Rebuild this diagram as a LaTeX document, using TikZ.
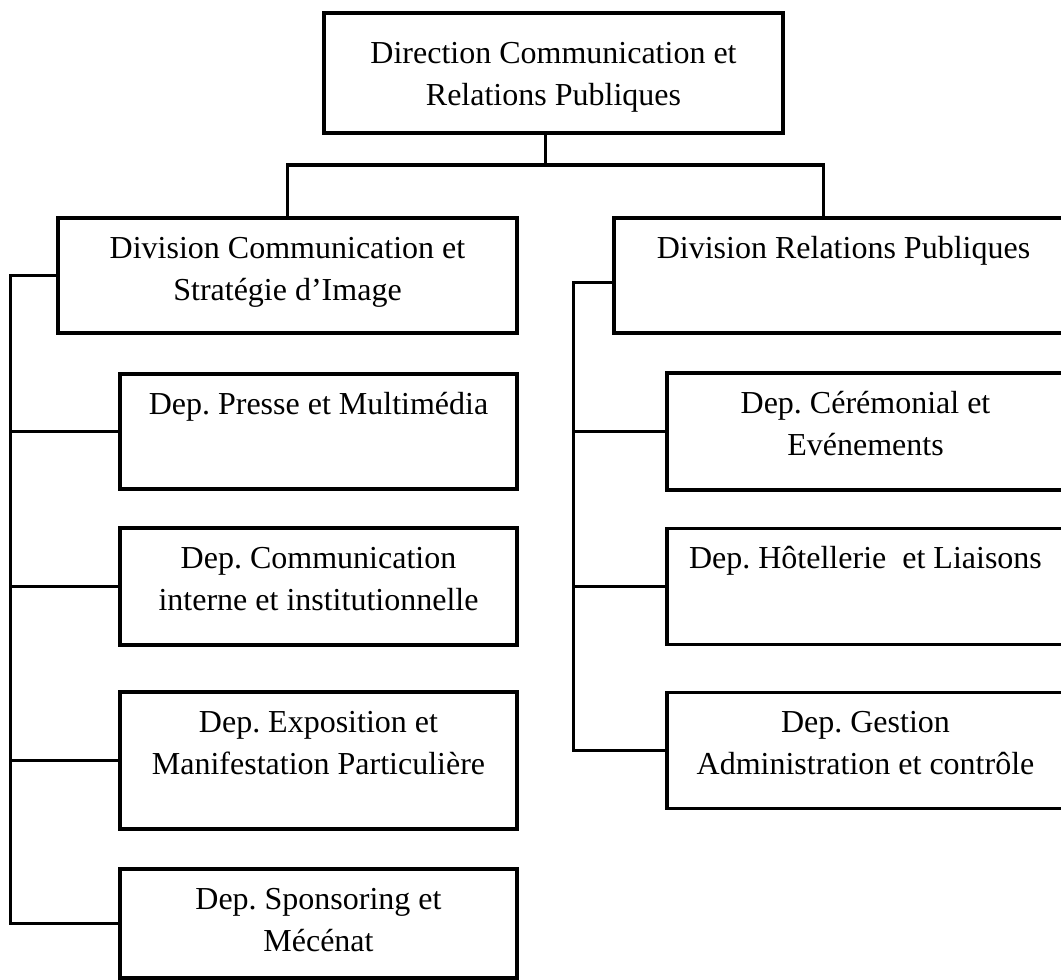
\documentclass[tikz,border=0pt]{standalone}
\usepackage{fontspec}
\setmainfont{Liberation Serif}
\frenchspacing
\usetikzlibrary{positioning}
\tikzstyle{unit} = [rectangle, draw=black, line width=3.5pt, inner sep=0pt, font=\fontsize{32pt}{42pt}\selectfont]
\tikzstyle{link} = [draw, line width=3.5pt]
\newcommand{\orgtext}[4][40pt]{\parbox[c][#3][t]{#2}{\centering\rule{0pt}{#1}#4}}

\begin{document}
\begin{tikzpicture}[node distance=155pt]
\useasboundingbox (0,0) rectangle (1061pt,-980pt);
\clip (0,0) rectangle (1061pt,-980pt);

% Direction
\node (dir) [unit] at (553.5pt,-73pt) {\orgtext[50pt]{459pt}{120pt}{Direction Communication et\\ Relations Publiques}};

% Divisions
\node (divcom) [unit, below of=dir, xshift=-266pt, yshift=-47.5pt] {\orgtext{459pt}{115pt}{Division Communication et\\ Stratégie d’Image}};
\node (divrp) [unit, below of=dir, xshift=290pt, yshift=-47.5pt] {\orgtext{459pt}{115pt}{Division Relations Publiques}};

% Departements - communication
\node (presse) [unit, below of=divcom, xshift=31pt, yshift=-1pt] {\orgtext{397pt}{115pt}{Dep. Presse et Multimédia}};
\node (comint) [unit, below of=presse] {\orgtext{397pt}{117pt}{Dep. Communication\\ interne et institutionnelle}};
\node (expo) [unit, below of=comint, yshift=-19pt] {\orgtext{397pt}{137pt}{Dep. Exposition et\\ Manifestation Particulière}};
\node (sponso) [unit, below of=expo, yshift=-8pt] {\orgtext{397pt}{109pt}{Dep. Sponsoring et\\ Mécénat}};

% Departements - relations publiques
\node (ceremo) [unit, below of=divrp, xshift=22pt, yshift=-1pt] {\orgtext{397pt}{117pt}{Dep. Cérémonial et\\ Evénements}};
\node (hotel) [unit, below of=ceremo] {\orgtext{397pt}{116pt}{Dep. Hôtellerie\ \ et Liaisons}};
\node (gestion) [unit, below of=hotel, yshift=-9pt] {\orgtext{397pt}{116pt}{Dep. Gestion\\ Administration et contrôle}};

% Connections
\draw [link] ([xshift=-8pt]dir.south) -- ++(0,-30pt) coordinate (hub);
\draw [link] (divcom.north) |- (hub) -| ([xshift=-20pt]divrp.north);

\draw [link] (divcom.west) -- ++(-46pt,0) coordinate (lbus) |- (sponso.west);
\draw [link] (presse.west) -- (presse.west -| lbus);
\draw [link] (comint.west) -- (comint.west -| lbus);
\draw [link] (expo.west) -- (expo.west -| lbus);

\draw [link] ([yshift=-7pt]divrp.west) -- ++(-39pt,0) coordinate (rbus) |- (gestion.west);
\draw [link] (ceremo.west) -- (ceremo.west -| rbus);
\draw [link] (hotel.west) -- (hotel.west -| rbus);

\end{tikzpicture}
\end{document}
